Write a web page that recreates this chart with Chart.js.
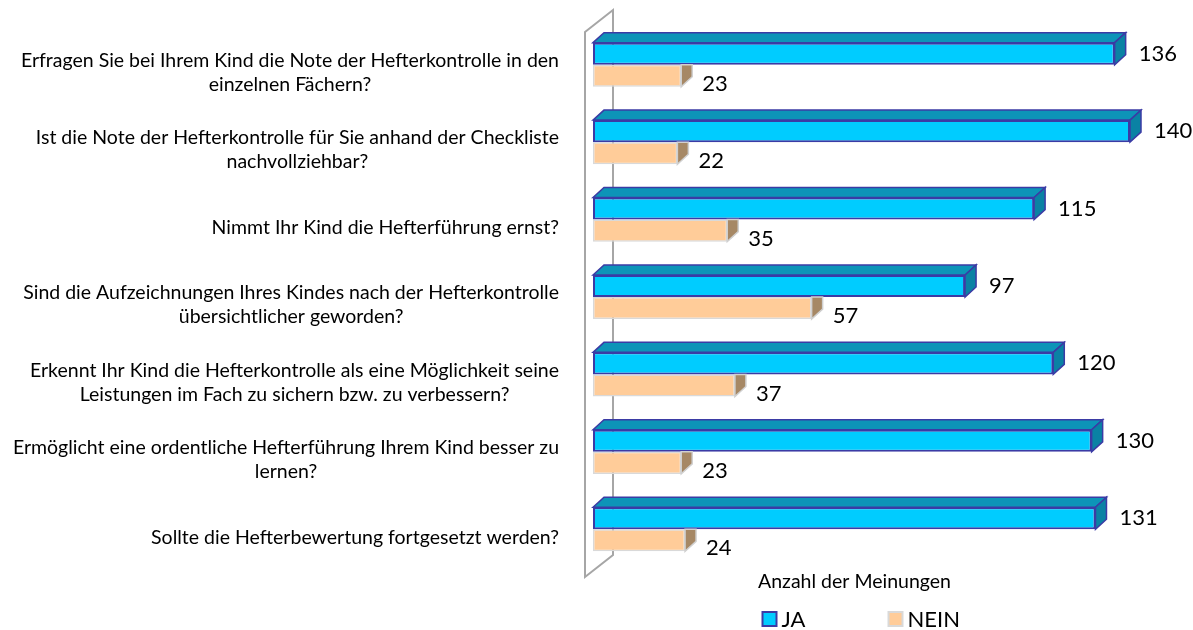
<!DOCTYPE html>
<html>
<head>
<meta charset="utf-8">
<script src="https://cdn.jsdelivr.net/npm/chart.js@4"></script>
<style>
  html, body { margin: 0; padding: 0; background: #fff; }
  #wrap { width: 1193px; height: 630px; }
</style>
</head>
<body>
<div id="wrap"><canvas id="myChart"></canvas></div>
<script>
const questions = [
  ['Erfragen Sie bei Ihrem Kind die Note der Hefterkontrolle in den', 'einzelnen Fächern?'],
  ['Ist die Note der Hefterkontrolle für Sie anhand der Checkliste', 'nachvollziehbar?'],
  ['Nimmt Ihr Kind die Hefterführung ernst?'],
  ['Sind die Aufzeichnungen Ihres Kindes nach der Hefterkontrolle', 'übersichtlicher geworden?'],
  ['Erkennt Ihr Kind die Hefterkontrolle als eine Möglichkeit seine', 'Leistungen im Fach zu sichern bzw. zu verbessern?'],
  ['Ermöglicht eine ordentliche Hefterführung Ihrem Kind besser zu', 'lernen?'],
  ['Sollte die Hefterbewertung fortgesetzt werden?']
];
const ja = [136, 140, 115, 97, 120, 130, 131];
const nein = [23, 22, 35, 57, 37, 23, 24];
const legendTitle = 'Anzahl der Meinungen';

const FONT = 'Lato, "Open Sans", sans-serif';
// 3D look: top and side faces per bar
const shade = {
  0: { top: '#0D94B8', side: '#0A82A4', line: '#3B3BA5', gap: 24, dy: 0 },
  1: { top: null, side: '#A68865', line: '#D0D0D0', gap: 21, dy: 8 }
};
const DX = 11, DY = 10;

function poly(ctx, pts, fill, line) {
  ctx.beginPath();
  ctx.moveTo(pts[0][0], pts[0][1]);
  for (let i = 1; i < pts.length; i++) ctx.lineTo(pts[i][0], pts[i][1]);
  ctx.closePath();
  ctx.fillStyle = fill;
  ctx.fill();
  ctx.lineWidth = 1.5;
  ctx.strokeStyle = line;
  ctx.stroke();
}

const look3d = {
  id: 'look3d',
  beforeDatasetsDraw(chart) {
    const ctx = chart.ctx, a = chart.chartArea;
    const L = a.left, T = a.top, B = a.bottom;
    ctx.save();
    ctx.strokeStyle = '#A6A6A6';
    ctx.lineWidth = 2;
    ctx.beginPath();
    ctx.moveTo(L - 8, T + 6);
    ctx.lineTo(L + 20, T - 16);
    ctx.lineTo(L + 20, B - 13);
    ctx.lineTo(L - 8, B + 9);
    ctx.closePath();
    ctx.stroke();
    ctx.restore();
  },
  afterDatasetsDraw(chart) {
    const ctx = chart.ctx;
    ctx.save();
    [1, 0].forEach(d => {
      const s = shade[d];
      chart.getDatasetMeta(d).data.forEach((el, i) => {
        const p = el.getProps(['x', 'y', 'base', 'height'], true);
        const top = p.y - p.height / 2, bot = p.y + p.height / 2;
        if (s.top) {
          poly(ctx, [[p.base, top], [p.base + DX, top - DY], [p.x + DX, top - DY], [p.x, top]], s.top, s.line);
          poly(ctx, [[p.x, top], [p.x + DX, top - DY], [p.x + DX, bot - DY], [p.x, bot]], s.side, s.line);
        } else {
          poly(ctx, [[p.x, top], [p.x + DX, top], [p.x + DX, bot - DY], [p.x, bot]], s.side, s.line);
        }
        ctx.fillStyle = '#000';
        ctx.font = '22px ' + FONT;
        ctx.textAlign = 'left';
        ctx.textBaseline = 'middle';
        ctx.fillText(String(chart.data.datasets[d].data[i]), p.x + s.gap, p.y + s.dy);
      });
    });
    ctx.restore();
  },
  afterDraw(chart) {
    const ctx = chart.ctx, a = chart.chartArea, y = chart.scales.y;
    ctx.save();
    // question labels, block right-aligned, lines centered
    ctx.font = '19.5px ' + FONT;
    ctx.fillStyle = '#000';
    ctx.textAlign = 'center';
    ctx.textBaseline = 'middle';
    const right = a.left - 34;
    chart.data.labels.forEach((lines, i) => {
      const w = Math.max(...lines.map(t => ctx.measureText(t).width));
      const cx = right - w / 2;
      const cy = y.getPixelForValue(i) + 8;
      lines.forEach((t, k) => ctx.fillText(t, cx, cy + (k - (lines.length - 1) / 2) * 24));
    });
    // legend
    const cx = (a.left + a.right) / 2;
    ctx.font = '19.5px ' + FONT;
    ctx.fillText(legendTitle, cx - 7, a.bottom + 14);
    const xs = [cx - 99, cx + 27];
    chart.data.datasets.forEach((ds, d) => {
      const bx = xs[d], by = a.bottom + 44;
      ctx.fillStyle = ds.backgroundColor;
      ctx.fillRect(bx, by, 14, 14);
      ctx.lineWidth = 2;
      ctx.strokeStyle = ds.borderColor;
      ctx.strokeRect(bx, by, 14, 14);
      ctx.fillStyle = '#000';
      ctx.textAlign = 'left';
      ctx.font = '22px ' + FONT;
      ctx.fillText(ds.label, bx + 19, by + 8);
    });
    ctx.restore();
  }
};

const ctx = document.getElementById('myChart').getContext('2d');
const myChart = new Chart(ctx, {
  type: 'bar',
  data: {
    labels: questions,
    datasets: [
      {
        label: 'JA',
        data: ja,
        backgroundColor: '#00CCFF',
        borderColor: '#3B3BA5',
        borderWidth: 2,
        borderSkipped: false,
        clip: false
      },
      {
        label: 'NEIN',
        data: nein,
        backgroundColor: '#FFCC99',
        borderColor: '#D9D9D9',
        borderWidth: 1.5,
        borderSkipped: false,
        clip: false
      }
    ]
  },
  options: {
    indexAxis: 'y',
    responsive: true,
    maintainAspectRatio: false,
    animation: false,
    datasets: { bar: { categoryPercentage: 0.57, barPercentage: 1 } },
    layout: { padding: { left: 593, right: 63, top: 26, bottom: 62 } },
    scales: {
      x: { display: false, min: 0, max: 140 },
      y: { display: false }
    },
    plugins: {
      legend: { display: false },
      tooltip: { enabled: false }
    }
  },
  plugins: [look3d]
});
</script>
</body>
</html>
